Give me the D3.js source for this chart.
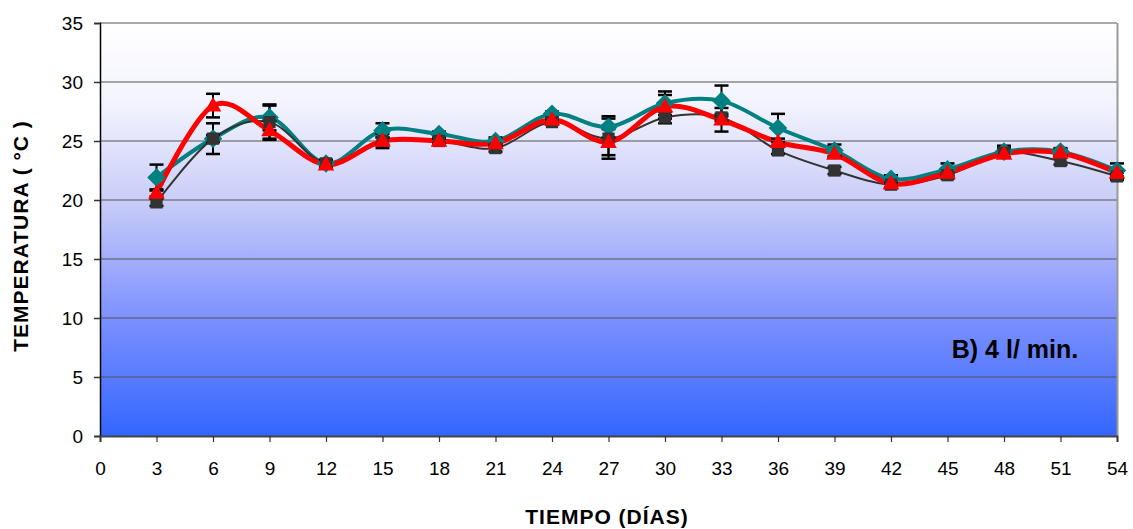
<!DOCTYPE html>
<html><head><meta charset="utf-8">
<script src="https://cdn.jsdelivr.net/npm/d3@7"></script>
<style>body{margin:0;background:#fff}svg{display:block}</style>
</head><body><svg id="c" width="1133" height="529"></svg>
<script>
const days = [3,6,9,12,15,18,21,24,27,30,33,36,39,42,45,48,51,54];
const xTicks = [0,3,6,9,12,15,18,21,24,27,30,33,36,39,42,45,48,51,54];
const yTicks = [0,5,10,15,20,25,30,35];
const grayVals = [19.8,25.2,26.6,23.1,25.0,25.0,24.4,26.6,25.2,27.0,27.0,24.2,22.5,21.3,22.1,24.0,23.3,22.0];
const grayErr  = [0.3,1.3,1.4,0.3,0.3,0.2,0.3,0.2,1.7,0.5,0.3,0.3,0.3,0.3,0.3,0.4,0.3,0.3];
const tealVals = [21.9,25.2,27.0,23.1,25.9,25.6,25.0,27.3,26.2,28.2,28.4,26.1,24.2,21.8,22.6,24.1,24.1,22.5];
const tealErr  = [1.1,0.3,1.1,0.3,0.6,0.2,0.3,0.2,0.9,1.0,1.3,1.2,0.5,0.3,0.5,0.5,0.3,0.6];
const redVals  = [20.6,28.0,25.9,23.0,25.0,25.0,24.8,26.8,24.9,27.9,26.8,24.9,23.9,21.4,22.3,23.9,24.0,22.3];
const redErr   = [0.3,1.0,0.8,0.3,0.6,0.2,0.3,0.3,1.1,1.0,1.0,0.3,0.3,0.3,0.3,0.3,0.3,0.3];
const annotation = "B) 4 l/ min.";
const xTitle = "TIEMPO (DÍAS)";
const yTitle = "TEMPERATURA ( °C )";

const svg = d3.select("#c");
const L=100, R=1117, T=23, B=436;
const x = d3.scaleLinear().domain([0,54]).range([L,R]);
const y = d3.scaleLinear().domain([0,35]).range([B,T]);

const defs = svg.append("defs");
const g = defs.append("linearGradient").attr("id","bg").attr("x1",0).attr("y1",0).attr("x2",0).attr("y2",1);
[[0,"#ffffff"],[0.2,"#f2f3fd"],[0.43,"#c9cdf8"],[0.72,"#7b8fff"],[1,"#3366ff"]].forEach(s=>g.append("stop").attr("offset",s[0]).attr("stop-color",s[1]));
svg.append("rect").attr("x",L).attr("y",T).attr("width",R-L).attr("height",B-T).attr("fill","url(#bg)");

svg.append("g").selectAll("line").data(yTicks.filter(d=>d>0)).join("line")
  .attr("x1",L).attr("x2",R).attr("y1",d=>y(d)).attr("y2",d=>y(d))
  .attr("stroke","#555").attr("stroke-width",1.2);
svg.append("line").attr("x1",R+0.5).attr("x2",R+0.5).attr("y1",T).attr("y2",B).attr("stroke","#999").attr("stroke-width",2);

const font = "'Liberation Sans', Arial, sans-serif";
const ya = svg.append("g").attr("transform",`translate(${L},0)`)
  .call(d3.axisLeft(y).tickValues(yTicks).tickSize(6).tickPadding(11));
ya.select(".domain").attr("stroke","#000").attr("stroke-width",1.5);
ya.selectAll(".tick line").attr("stroke","#333").attr("stroke-width",1.5);
ya.selectAll("text").attr("font-family",font).attr("font-size",19).attr("fill","#000");
const xa = svg.append("g").attr("transform",`translate(0,${B})`)
  .call(d3.axisBottom(x).tickValues(xTicks).tickSize(6).tickPadding(20));
xa.select(".domain").attr("stroke","#444").attr("stroke-width",2);
xa.selectAll(".tick line").attr("stroke","#333").attr("stroke-width",1.2);
xa.selectAll("text").attr("font-family",font).attr("font-size",19).attr("fill","#000");

const series = [
  {vals:tealVals, err:tealErr, color:"#008080", w:4, shape:"diamond"},
  {vals:grayVals, err:grayErr, color:"#333333", w:2, shape:"square"},
  {vals:redVals,  err:redErr,  color:"#ff0000", w:5, shape:"triangle"}
];
const line = d3.line().x((d,i)=>x(days[i])).y(d=>y(d)).curve(d3.curveCardinal.tension(0));
series.forEach(s=>{
  svg.append("path").datum(s.vals).attr("d",line).attr("fill","none")
    .attr("stroke",s.color).attr("stroke-width",s.w).attr("stroke-linejoin","round");
});
series.forEach(s=>{
  const eg = svg.append("g").attr("stroke","#000").attr("stroke-width",2);
  s.vals.forEach((v,i)=>{
    const cx=x(days[i]), y1=y(v+s.err[i]), y2=y(v-s.err[i]);
    eg.append("line").attr("x1",cx).attr("x2",cx).attr("y1",y1).attr("y2",y2);
    eg.append("line").attr("x1",cx-7).attr("x2",cx+7).attr("y1",y1).attr("y2",y1).attr("stroke-width",2.5);
    eg.append("line").attr("x1",cx-7).attr("x2",cx+7).attr("y1",y2).attr("y2",y2).attr("stroke-width",2.5);
  });
});
const sym = {diamond:d3.symbol().type(d3.symbolDiamond2).size(220),
             square:d3.symbol().type(d3.symbolSquare).size(150),
             triangle:d3.symbol().type(d3.symbolTriangle).size(120)};
series.forEach(s=>{
  svg.append("g").selectAll("path").data(s.vals).join("path")
    .attr("transform",(d,i)=>`translate(${x(days[i])},${y(d)+(s.shape==="triangle"?1:0)})`)
    .attr("d",sym[s.shape]()).attr("fill",s.color);
});

svg.append("text").attr("x",1015).attr("y",358).attr("text-anchor","middle")
  .attr("font-family",font).attr("font-weight","bold").attr("font-size",25).text(annotation);
svg.append("text").attr("x",607).attr("y",524).attr("text-anchor","middle").attr("letter-spacing",1)
  .attr("font-family",font).attr("font-weight","bold").attr("font-size",21).text(xTitle);
svg.append("text").attr("transform","translate(28,236) rotate(-90)").attr("text-anchor","middle").attr("letter-spacing",1)
  .attr("font-family",font).attr("font-weight","bold").attr("font-size",21).text(yTitle);
</script></body></html>
